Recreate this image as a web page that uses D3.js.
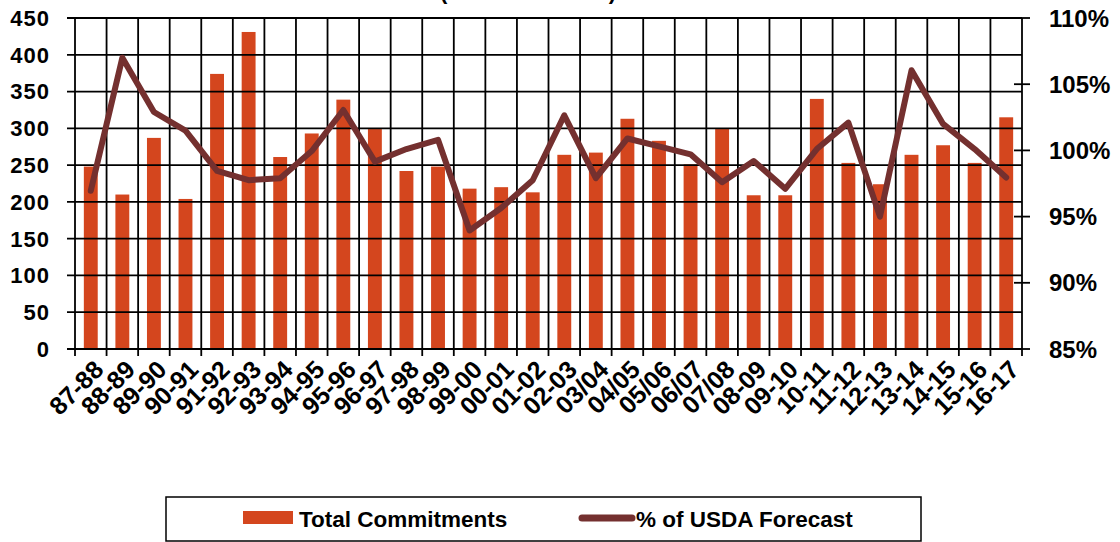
<!DOCTYPE html>
<html>
<head>
<meta charset="utf-8">
<script src="https://d3js.org/d3.v7.min.js"></script>
<style>
    body { margin: 0; background: #fff; font-family: "Liberation Sans", Arial, sans-serif; }
    svg { display: block; }
    text { font-weight: bold; fill: #000; }
</style>
</head>
<body>
<div id="container"><svg></svg></div>
<script>
let width = 1120;
let height = 542;

// data
let years = ['87-88', '88-89', '89-90', '90-91', '91-92', '92-93', '93-94', '94-95', '95-96', '96-97',
    '97-98', '98-99', '99-00', '00-01', '01-02', '02-03', '03/04', '04/05', '05/06', '06/07',
    '07/08', '08-09', '09-10', '10-11', '11-12', '12-13', '13-14', '14-15', '15-16', '16-17'];
let commitments = [248, 210, 287, 204, 374, 431, 261, 293, 339, 299,
    242, 248, 218, 220, 213, 264, 267, 313, 283, 251,
    299, 209, 209, 340, 253, 224, 264, 277, 253, 315];
let pctForecast = [96.95, 107.0, 102.9, 101.5, 98.45, 97.75, 97.9, 99.95, 103.05, 99.15,
    100.1, 100.8, 93.95, 95.65, 97.75, 102.65, 97.9, 100.9, 100.3, 99.7,
    97.6, 99.2, 97.1, 100.1, 102.1, 95.0, 106.05, 102.0, 100.1, 97.95];
let leftTicks = [0, 50, 100, 150, 200, 250, 300, 350, 400, 450];
let rightTicks = [85, 90, 95, 100, 105, 110];

let barColor = '#d4461e';
let lineColor = '#74302f';

let padding = {left: 75, right: 98, top: 18, bottom: 193};

let svg = d3.select('#container').select('svg')
    .attr('width', width)
    .attr('height', height);

let x = d3.scaleBand()
    .domain(years)
    .range([padding.left, width - padding.right])
    .paddingInner(0.56)
    .paddingOuter(0.28);

let y = d3.scaleLinear()
    .domain([0, 450])
    .range([height - padding.bottom, padding.top]);

let y2 = d3.scaleLinear()
    .domain([85, 110])
    .range([height - padding.bottom, padding.top]);

let x0 = padding.left, x1 = width - padding.right;
let step = x.step();

// title (only the bottom of it is inside the frame)
svg.append('text')
    .attr('x', 528)
    .attr('y', -1)
    .attr('text-anchor', 'middle')
    .attr('font-size', '22px')
    .text('(Million Bushels)');

// bars
svg.append('g')
    .selectAll('rect')
    .data(commitments)
    .enter().append('rect')
    .attr('x', (d, i) => x(years[i]))
    .attr('y', d => y(d))
    .attr('width', x.bandwidth())
    .attr('height', d => y(0) - y(d))
    .attr('fill', barColor);

// horizontal grid + left ticks
svg.append('g')
    .selectAll('line')
    .data(leftTicks)
    .enter().append('line')
    .attr('x1', x0 - 8)
    .attr('x2', x1)
    .attr('y1', d => y(d))
    .attr('y2', d => y(d))
    .attr('stroke', '#000')
    .attr('stroke-width', 1.8);

// vertical grid at category boundaries
let bounds = d3.range(years.length + 1).map(i => x0 + i * step);
svg.append('g')
    .selectAll('line')
    .data(bounds)
    .enter().append('line')
    .attr('x1', d => d)
    .attr('x2', d => d)
    .attr('y1', padding.top)
    .attr('y2', y(0) + 7)
    .attr('stroke', '#000')
    .attr('stroke-width', 1.8);

// right axis ticks
svg.append('g')
    .selectAll('line')
    .data(rightTicks)
    .enter().append('line')
    .attr('x1', x1 - 8)
    .attr('x2', x1 + 8)
    .attr('y1', d => y2(d))
    .attr('y2', d => y2(d))
    .attr('stroke', '#000')
    .attr('stroke-width', 1.8);

// line
let line = d3.line()
    .x((d, i) => x(years[i]) + x.bandwidth() / 2)
    .y(d => y2(d));
svg.append('path')
    .datum(pctForecast)
    .attr('d', line)
    .attr('fill', 'none')
    .attr('stroke', lineColor)
    .attr('stroke-width', 6)
    .attr('stroke-linejoin', 'round')
    .attr('stroke-linecap', 'round');

// left axis labels
svg.append('g')
    .selectAll('text')
    .data(leftTicks)
    .enter().append('text')
    .attr('x', x0 - 25)
    .attr('y', d => y(d))
    .attr('dy', '0.36em')
    .attr('text-anchor', 'end')
    .attr('font-size', '22px')
    .attr('letter-spacing', '1px')
    .text(d => d);

// right axis labels
svg.append('g')
    .selectAll('text')
    .data(rightTicks)
    .enter().append('text')
    .attr('x', x1 + 27)
    .attr('y', d => y2(d))
    .attr('dy', '0.36em')
    .attr('font-size', '24px')
    .text(d => d + '%');

// x labels
svg.append('g')
    .selectAll('text')
    .data(years)
    .enter().append('text')
    .attr('transform', d => `translate(${x(d) + x.bandwidth() / 2 + 1}, ${y(0) + 9}) rotate(-45)`)
    .attr('text-anchor', 'end')
    .attr('dy', '0.75em')
    .attr('font-size', '25px')
    .text(d => d);

// legend
let legend = svg.append('g');
legend.append('rect')
    .attr('x', 166).attr('y', 497)
    .attr('width', 755).attr('height', 44)
    .attr('fill', 'none')
    .attr('stroke', '#000')
    .attr('stroke-width', 1.5);
legend.append('rect')
    .attr('x', 243).attr('y', 511)
    .attr('width', 50).attr('height', 13)
    .attr('fill', barColor);
legend.append('text')
    .attr('x', 299).attr('y', 527)
    .attr('font-size', '22.5px')
    .text('Total Commitments');
legend.append('line')
    .attr('x1', 582).attr('x2', 632)
    .attr('y1', 518).attr('y2', 518)
    .attr('stroke', lineColor)
    .attr('stroke-width', 7)
    .attr('stroke-linecap', 'round');
legend.append('text')
    .attr('x', 636).attr('y', 527)
    .attr('font-size', '22.5px')
    .text('% of USDA Forecast');
</script>
</body>
</html>
